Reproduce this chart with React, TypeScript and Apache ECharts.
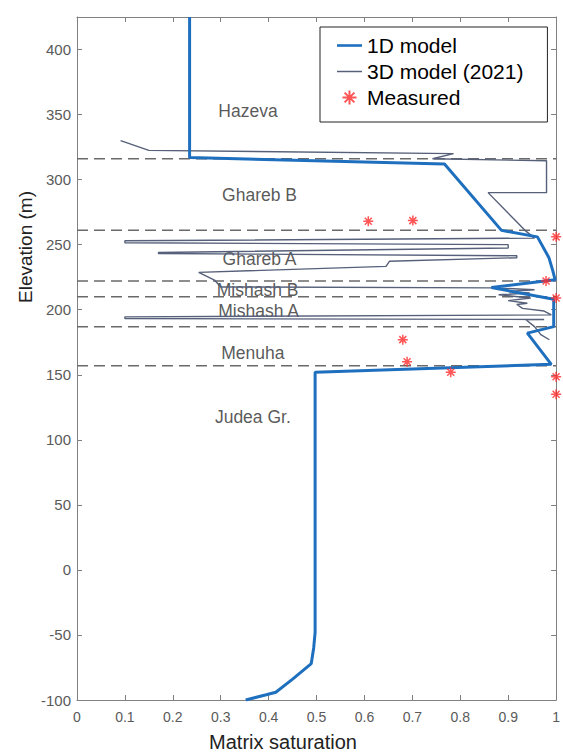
import React, { useEffect, useRef } from "react";
import * as echarts from "echarts";

// 1D model: [matrix saturation, elevation (m)]
const model1D: number[][] = [
  [0.235, 425], [0.235, 317], [0.767, 312], [0.886, 261], [0.961, 256],
  [0.985, 240], [0.993, 230], [0.998, 223], [0.865, 217], [0.995, 208],
  [0.995, 187], [0.94, 182], [0.99, 158], [0.497, 152], [0.497, -48],
  [0.494, -60], [0.489, -72], [0.45, -84], [0.415, -94], [0.395, -96], [0.352, -100],
];

// 3D model (2021)
const model3D: number[][] = [
  [0.091, 330], [0.15, 322.5], [0.786, 320], [0.742, 316], [0.98, 314.5],
  [0.98, 290], [0.858, 290], [0.935, 261], [0.955, 255],
  [0.10, 253], [0.10, 251.5], [0.90, 250], [0.90, 248.5], [0.90, 247.4],
  [0.17, 244], [0.17, 243.2], [0.918, 241.5], [0.918, 240], [0.652, 237.2],
  [0.645, 233.3], [0.254, 228.7], [0.288, 222.5], [0.30, 217.5], [0.866, 216.8],
  [0.955, 215.4], [0.90, 214], [0.945, 212.8], [0.88, 211.5], [0.947, 209],
  [0.90, 207], [0.94, 205], [0.918, 204], [0.93, 201], [0.975, 199],
  [0.99, 196], [0.10, 194.5], [0.10, 193.2], [0.975, 192.5], [0.937, 192.3],
  [0.955, 187], [0.968, 180.8], [0.986, 176.9],
];

// Measured points
const measured: number[][] = [
  [0.608, 268], [0.701, 268.5], [1.0, 256], [0.979, 222], [1.0, 209],
  [0.68, 177], [0.689, 160], [0.78, 152], [1.0, 148.5], [1.0, 135],
];

// Formation boundaries (elevation, m)
const boundaries: number[] = [316, 261, 222, 210, 187, 157];

// Formation labels
const formationNames: string[] = ["Hazeva", "Ghareb B", "Ghareb A", "Mishash B", "Mishash A", "Menuha", "Judea Gr."];
const formationX: number[] = [0.357, 0.381, 0.381, 0.377, 0.379, 0.367, 0.367];
const formationY: number[] = [352.5, 288, 239, 215.4, 198.7, 167, 117.5];

const FONT = "'Liberation Sans', Arial, Helvetica, sans-serif";
const AXIS_COLOR = "#808080";
const BLUE = "#1f6fbf";
const GREY = "#56607a";

export default function App() {
  const ref = useRef<HTMLDivElement>(null);
  useEffect(() => {
    const chart = echarts.init(ref.current!, null, { renderer: "svg" });
    const axisCommon = {
      axisLine: { show: true, onZero: false, lineStyle: { color: AXIS_COLOR, width: 1 } },
      axisTick: { show: true, inside: true, length: 5, lineStyle: { color: AXIS_COLOR } },
      splitLine: { show: false },
    };
    const option: any = {
      animation: false,
      backgroundColor: "#fff",
      grid: { left: 77, right: 1, top: 17, bottom: 55, containLabel: false },
      xAxis: [
        {
          type: "value", min: 0, max: 1, interval: 0.1, position: "bottom", ...axisCommon,
          axisLabel: { color: "#5a5a5a", fontSize: 14, margin: 10, fontFamily: FONT },
        },
        {
          type: "value", min: 0, max: 1, interval: 0.1, position: "top", ...axisCommon,
          axisLabel: { show: false },
        },
      ],
      yAxis: [
        {
          type: "value", min: -100, max: 425, interval: 50, position: "left", ...axisCommon,
          axisLabel: { color: "#5a5a5a", fontSize: 15, margin: 6, fontFamily: FONT, showMaxLabel: false },
        },
        {
          type: "value", min: -100, max: 425, interval: 50, position: "right", ...axisCommon,
          axisLabel: { show: false },
        },
      ],
      legend: {
        orient: "vertical",
        left: 320,
        top: 27,
        itemWidth: 25,
        itemHeight: 14,
        itemGap: 5,
        padding: [8, 24, 14, 17],
        backgroundColor: "#fff",
        borderColor: "#222",
        borderWidth: 1,
        textStyle: { fontSize: 21, color: "#000", fontFamily: FONT },
        data: [
          { name: "1D model", icon: "path://M0,0 H25 V2.6 H0 Z" },
          { name: "3D model (2021)", icon: "path://M0,0 H25 V1.5 H0 Z" },
          { name: "Measured" },
        ],
      },
      series: [
        {
          name: "3D model (2021)",
          type: "line",
          data: model3D,
          symbol: "none",
          lineStyle: { color: GREY, width: 1.4 },
          itemStyle: { color: GREY },
          z: 4,
          silent: true,
        },
        ...boundaries.map((b) => ({
          type: "line",
          data: [[0, b], [1, b]],
          symbol: "none",
          lineStyle: { color: "#6a6a6a", width: 1.5, type: [11, 6] },
          z: 2,
          silent: true,
        })),
        {
          name: "1D model",
          type: "line",
          data: model1D,
          symbol: "none",
          lineStyle: { color: BLUE, width: 3 },
          itemStyle: { color: BLUE },
          z: 5,
          silent: true,
        },
        {
          name: "Measured",
          type: "scatter",
          data: measured,
          symbol: "path://M10,0 L10,20 M0,10 L20,10 M3,3 L17,17 M17,3 L3,17",
          symbolSize: 10,
          itemStyle: { color: "#ff2a2a", borderColor: "#ff2a2a", borderWidth: 1.5 },
          z: 6,
          silent: true,
        },
        {
          type: "scatter",
          data: formationNames.map((n, i) => [formationX[i], formationY[i], n]),
          symbol: "circle",
          symbolSize: 1,
          itemStyle: { color: "rgba(0,0,0,0)" },
          label: {
            show: true,
            position: "inside",
            formatter: (p: any) => p.data[2],
            fontSize: 17.5,
            color: "#2e2e2e",
            fontFamily: FONT,
          },
          z: 3,
          silent: true,
        },
      ],
      graphic: [
        {
          type: "text",
          x: 25,
          y: 247,
          rotation: Math.PI / 2,
          style: {
            text: "Elevation (m)",
            fontSize: 19,
            fill: "#222",
            fontFamily: FONT,
            align: "center",
            verticalAlign: "middle",
          },
        },
        {
          type: "text",
          x: 283,
          y: 742,
          style: {
            text: "Matrix saturation",
            fontSize: 20,
            fill: "#222",
            fontFamily: FONT,
            align: "center",
            verticalAlign: "middle",
          },
        },
      ],
    };
    chart.setOption(option);
    return () => chart.dispose();
  }, []);
  return (
    <div
      ref={ref}
      style={{ position: "fixed", left: 0, top: 0, width: 563, height: 755, background: "#fff" }}
    />
  );
}
